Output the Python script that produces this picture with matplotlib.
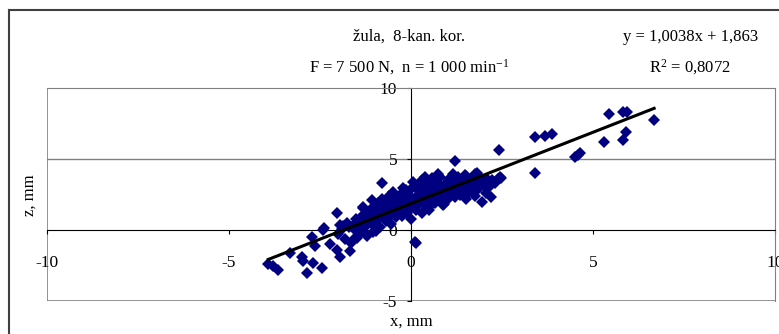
import numpy as np
import matplotlib
matplotlib.use("Agg")
from matplotlib import pyplot as plt
from matplotlib.lines import Line2D

plt.rcParams['font.family'] = ['Liberation Serif', 'DejaVu Serif']
plt.rcParams['mathtext.fontset'] = 'custom'
plt.rcParams['mathtext.rm'] = 'Liberation Serif'
plt.rcParams['mathtext.it'] = 'Liberation Serif:italic'

x_vals = [
    -3.92, -3.65, -3.78, -3.32, -3.00, -2.96, -2.85, -2.68, -2.45, -2.64,
    -2.73, -2.41, -2.39, -2.23, -2.04, -1.95, -1.68, -1.49, -1.54, -1.95,
    -1.77, -1.49, -2.04, -1.86, -1.31, -1.31, -1.08, -1.04, -1.22, -0.81,
    -0.23, 0.11, 0.14, 0.06, 0.29,
    -2.00, -1.90, -1.80, -1.70, -1.65, -1.20, -0.95,
    -1.60, -1.55, -1.50, -1.45, -1.40, -1.35, -1.30, -1.25, -1.20, -1.15,
    -1.10, -1.05, -1.00, -1.00, -0.95,
    -0.90, -0.90, -0.85, -0.85, -0.80, -0.80, -0.75, -0.70, -0.70, -0.65,
    -0.60, -0.60, -0.55, -0.55, -0.50, -0.50,
    -0.45, -0.40, -0.40, -0.35, -0.30, -0.30, -0.25, -0.20, -0.20, -0.15,
    -0.10, -0.10, -0.05, 0.00, 0.00, 0.00,
    0.05, 0.10, 0.10, 0.15, 0.20, 0.20, 0.25, 0.30, 0.30, 0.35,
    0.40, 0.40, 0.45, 0.50, 0.50, 0.50,
    0.55, 0.60, 0.60, 0.65, 0.70, 0.70, 0.75, 0.80, 0.80, 0.85,
    0.90, 0.90, 0.95, 1.00, 1.00, 1.00,
    1.05, 1.10, 1.10, 1.15, 1.20, 1.25, 1.30, 1.30, 1.35, 1.40,
    1.45, 1.50, 1.50,
    1.55, 1.60, 1.65, 1.70, 1.75, 1.80, 1.85, 1.90, 1.95, 2.00,
    2.05, 2.10, 2.15, 2.20, 2.30,
    1.21, 2.43, 2.40, 2.12, 1.80, 3.41, 2.47, 2.45, 3.41, 3.68,
    3.87, 4.51, 4.64, 4.58, 5.31, 5.45, 5.83, 5.93, 5.90, 5.83,
    6.68, 1.71, 1.62, 1.35, 1.76, 1.48, 1.16, 0.75, 0.57, 0.38,
    2.08, 2.22, 0.89, 0.60,
]
z_vals = [
    -2.39, -2.82, -2.55, -1.64, -1.88, -2.18, -3.00, -2.35, -2.70, -1.13,
    -0.47, 0.00, 0.12, -0.99, -1.41, -1.88, -1.46, -0.58, -0.58, 0.35,
    0.47, 0.59, 1.22, 0.25, 1.53, 1.60, 2.11, -0.12, 0.47, 3.29,
    2.98, -0.82, -0.89, 3.40, 3.52,
    -0.30, 0.10, -0.60, 0.20, -0.90, -0.40, -0.10,
    0.30, 0.00, 0.80, 0.40, -0.20, 1.00, 0.60, 0.20, 1.30, 0.90,
    0.50, 1.60, 1.10, 0.30, 0.70,
    1.90, 1.30, 0.90, 0.20, 1.60, 2.20, 1.10, 0.60, 1.80, 1.40,
    2.40, 0.90, 1.90, 0.40, 1.20, 2.70,
    1.60, 2.10, 0.90, 1.40, 2.50, 1.80, 1.00, 2.20, 1.50, 2.80,
    1.90, 1.20, 2.40, 1.60, 2.90, 0.80,
    2.20, 1.90, 3.00, 1.40, 2.50, 3.20, 1.90, 2.80, 1.20, 2.30,
    3.10, 1.70, 2.60, 3.40, 2.00, 1.40,
    2.90, 2.40, 3.50, 1.90, 3.00, 2.60, 3.30, 2.20, 3.70, 2.80,
    3.10, 1.80, 2.50, 3.40, 2.90, 2.10,
    3.60, 2.60, 3.10, 3.80, 2.30, 3.30, 2.90, 3.70, 2.50, 3.40,
    3.00, 3.80, 2.20,
    3.30, 2.70, 3.60, 3.10, 2.40, 3.40, 2.90, 3.70, 2.00, 3.20,
    2.60, 3.50, 3.00, 2.30, 3.30,
    4.88, 5.63, 3.59, 3.52, 3.99, 4.04, 3.64, 3.70, 6.57, 6.64,
    6.74, 5.16, 5.40, 5.28, 6.17, 8.15, 8.29, 8.29, 6.88, 6.34,
    7.75, 2.70, 2.82, 2.58, 3.94, 3.87, 3.94, 3.94, 3.64, 3.75,
    3.52, 3.52, 1.76, 1.90,
]

# linear trend from the chart
slope = 1.0038
intercept = 1.863

x_ticks = [-10, -5, 0, 5, 10]
y_ticks = [-5, 0, 5, 10]

W, H = 779, 334
fig = plt.figure(figsize=(W / 100, H / 100), dpi=100)
ax = fig.add_axes([47 / W, 33 / H, 728 / W, 213 / H])

ax.plot(x_vals, z_vals, linestyle='none', marker='D', markersize=6,
        color='#000080', markeredgewidth=0, zorder=3)
xl = np.array([min(x_vals), max(x_vals)])
ax.plot(xl, slope * xl + intercept, color='black', lw=2.2, zorder=4)

ax.set_xlim(-10, 10)
ax.set_ylim(-5, 10)
ax.set_xticks(x_ticks)
ax.set_yticks(y_ticks)
ax.set_xticklabels([str(t) for t in x_ticks])
ax.set_yticklabels([str(t) for t in y_ticks])

for side in ['top', 'right']:
    ax.spines[side].set_color('#808080')
ax.spines['left'].set_position(('data', 0))
ax.spines['bottom'].set_position(('data', 0))
ax.spines['left'].set_color('black')
ax.spines['bottom'].set_color('black')
ax.axhline(-5, color='#808080', lw=1.2, zorder=1)
ax.axvline(-10, color='#808080', lw=1.2, zorder=1)
ax.axhline(5, color='#808080', lw=1.0, zorder=1)

ax.tick_params(axis='x', direction='out', length=3, pad=15, labelsize=12.5)
ax.tick_params(axis='y', direction='out', length=3, pad=7, labelsize=12.5)

fig.text(411 / W, 1 - 322 / H, 'x, mm', ha='center', va='center', fontsize=12)
fig.text(30 / W, 1 - 195 / H, 'z, mm', ha='center', va='center', fontsize=12,
         rotation=90)

fig.text(409 / W, 1 - 37 / H, 'žula,  8-kan. kor.', ha='center', va='center',
         fontsize=12)
fig.text(409 / W, 1 - 67 / H, r'F = 7 500 N,  n = 1 000 min$^{\mathrm{-1}}$',
         ha='center', va='center', fontsize=12)
fig.text(691 / W, 1 - 37 / H, 'y = 1,0038x + 1,863', ha='center', va='center',
         fontsize=12)
fig.text(690 / W, 1 - 67 / H, r'R$^{\mathrm{2}}$ = 0,8072', ha='center',
         va='center', fontsize=12)

# outer chart frame
fig.add_artist(Line2D([9 / W, 9 / W], [0, 1 - 10 / H], color='#404040', lw=1.5))
fig.add_artist(Line2D([9 / W, 1], [1 - 10 / H, 1 - 10 / H], color='#404040', lw=1.5))

fig.savefig('out.png', dpi=100)
